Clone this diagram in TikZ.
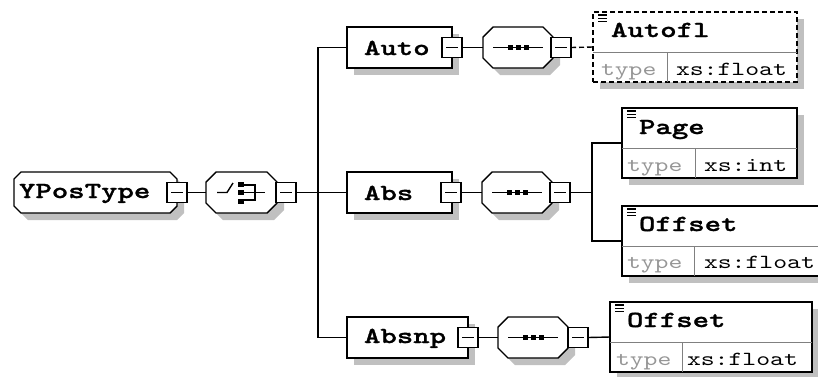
\documentclass[tikz,border=0pt]{standalone}
\usepackage{fontspec}
\usetikzlibrary{shadows}
\newfontfamily\elfont[FakeStretch=1.36,FakeBold=1.2]{lmmonolt10-bold.otf}
\newfontfamily\tyfont[FakeStretch=1.32]{lmmono10-regular.otf}
\definecolor{shadowc}{RGB}{192,192,192}
\definecolor{typegray}{RGB}{150,150,150}
\definecolor{divgray}{RGB}{128,128,128}
\newcommand\octshape[2]{%
 \fill[shadowc] ([xshift=#2+7,yshift=-7]#1.north west) -- ([xshift=-#2+7,yshift=-7]#1.north east) -- ([xshift=7,yshift=-#2-7]#1.north east) -- ([xshift=7,yshift=#2-7]#1.south east) -- ([xshift=-#2+7,yshift=-7]#1.south east) -- ([xshift=#2+7,yshift=-7]#1.south west) -- ([xshift=7,yshift=#2-7]#1.south west) -- ([xshift=7,yshift=-#2-7]#1.north west) -- cycle;
 \draw[fill=white] ([xshift=#2]#1.north west) -- ([xshift=-#2]#1.north east) -- ([yshift=-#2]#1.north east) -- ([yshift=#2]#1.south east) -- ([xshift=-#2]#1.south east) -- ([xshift=#2]#1.south west) -- ([yshift=#2]#1.south west) -- ([yshift=-#2]#1.north west) -- cycle;}
\newcommand\minusb[3]{%
 \node[box, anchor=north west, minimum width=20pt, minimum height=20pt] (#1) at (#2,#3) {};
 \draw ([xshift=-6]#1.center) -- ([xshift=6]#1.center);}
\newcommand\elparts[2]{%
 \draw[divline] ([yshift=-40]#1.north west) -- ([yshift=-40]#1.north east);
 \draw[divline] ([xshift=#2,yshift=-40]#1.north west) -- ([xshift=#2]#1.south west);
 \foreach \k in {3,6.3,9.6} \draw[line width=1.1pt] ([xshift=5,yshift=-\k]#1.north west) -- ++(9,0);}
\newcommand\seqsym[2]{% center x, center y
 \draw (#1-25,#2) -- (#1+25,#2);
 \foreach \d in {-8,0,8} \fill ({#1+\d-2.5},{#2-2.5}) rectangle ({#1+\d+2.5},{#2+2.5});}
\begin{document}
\begin{tikzpicture}[x=1pt,y=-1pt,line width=1.4pt,
  every node/.style={outer sep=0pt},
  hold/.style={rectangle, inner sep=0pt, draw=none},
  box/.style={rectangle, inner sep=0pt, draw=black, fill=white},
  shd/.style={drop shadow={shadow xshift=7pt, shadow yshift=-7pt, fill=shadowc, opacity=1}},
  divline/.style={draw=divgray, line width=1pt},
  optline/.style={dash pattern=on 5pt off 3pt},
  eltext/.style={inner sep=0pt, anchor=base west, font=\elfont\fontsize{23}{23}\selectfont},
  tytext/.style={inner sep=0pt, anchor=base west, font=\tyfont\fontsize{20}{20}\selectfont, text=typegray},
  tyval/.style={inner sep=0pt, anchor=base west, font=\tyfont\fontsize{20}{20}\selectfont}]
\clip (0,0) rectangle (818,376);
\fill[white] (0,0) rectangle (818,376);
% ---- YPosType
\node[hold, anchor=north west, minimum width=163pt, minimum height=41pt] (ypt) at (14,172) {};
\octshape{ypt}{7}
\node[eltext] (ypt-t) at (19,198) {YPosType};
\minusb{ypt-m}{167}{182.5}
% ---- choice
\node[hold, anchor=north west, minimum width=71pt, minimum height=41pt] (cho) at (206,172) {};
\octshape{cho}{10}
\draw (217,192.5) -- (227,192.5) -- (233,183);
\fill (238,181.5) rectangle (244,186.5);
\fill (238,190) rectangle (244,195);
\fill (238,198.5) rectangle (244,203.5);
\draw (244,185) -- (255,185) -- (255,200) -- (244,200);
\draw (244,192.5) -- (265,192.5);
\minusb{cho-m}{276}{182.5}
% ---- Auto
\node[box, shd, anchor=north west, minimum width=105pt, minimum height=41pt] (auto) at (347,27) {};
\node[eltext] (auto-t) at (364,55) {Auto};
\minusb{auto-m}{442}{37.5}
\node[hold, anchor=north west, minimum width=70pt, minimum height=41pt] (sq1) at (483,27) {};
\octshape{sq1}{10}
\seqsym{518}{47.5}
\minusb{sq1-m}{551}{37.5}
\node[box, shd, optline, anchor=north west, minimum width=204pt, minimum height=70pt] (autofl) at (593,12) {};
\elparts{autofl}{74}
\node[eltext] (autofl-t) at (611,37) {Autofl};
\node[tytext] (autofl-k) at (601,75) {type};
\node[tyval] (autofl-v) at (676,75) {xs:float};
% ---- Abs
\node[box, shd, anchor=north west, minimum width=105pt, minimum height=41pt] (abs) at (347,172) {};
\node[eltext] (abs-t) at (364,200) {Abs};
\minusb{abs-m}{441}{182.5}
\node[hold, anchor=north west, minimum width=70pt, minimum height=41pt] (sq2) at (482,172) {};
\octshape{sq2}{10}
\seqsym{517}{192.5}
\minusb{sq2-m}{550}{182.5}
\node[box, shd, anchor=north west, minimum width=175pt, minimum height=70pt] (page) at (622,108) {};
\elparts{page}{73}
\node[eltext] (page-t) at (639,134) {Page};
\node[tytext] (page-k) at (627,171) {type};
\node[tyval] (page-v) at (704,171) {xs:int};
\node[box, shd, anchor=north west, minimum width=202pt, minimum height=70pt] (off1) at (622,206) {};
\elparts{off1}{72}
\node[eltext] (off1-t) at (639,231) {Offset};
\node[tytext] (off1-k) at (627,268) {type};
\node[tyval] (off1-v) at (704,268) {xs:float};
% ---- Absnp
\node[box, shd, anchor=north west, minimum width=121pt, minimum height=41pt] (absnp) at (347,317) {};
\node[eltext] (absnp-t) at (364,343) {Absnp};
\minusb{absnp-m}{458}{327.5}
\node[hold, anchor=north west, minimum width=70pt, minimum height=41pt] (sq3) at (498,317) {};
\octshape{sq3}{10}
\seqsym{533}{337.5}
\minusb{sq3-m}{568}{327.5}
\node[box, shd, anchor=north west, minimum width=202pt, minimum height=70pt] (off2) at (610,302) {};
\elparts{off2}{72}
\node[eltext] (off2-t) at (627,327) {Offset};
\node[tytext] (off2-k) at (616,365) {type};
\node[tyval] (off2-v) at (687,365) {xs:float};
% ---- connectors
\coordinate (j1) at (318,192.5);
\coordinate (j2) at (592,192.5);
\draw (ypt-m.east) -- (cho.west);
\draw (cho-m.east) -- (abs.west);
\draw (auto.west) -- (auto.west -| j1) -- (absnp.west -| j1) -- (absnp.west);
\draw (auto-m.east) -- (sq1.west);
\draw[optline] (sq1-m.east) -- (autofl.west);
\draw (abs-m.east) -- (sq2.west);
\draw (sq2-m.east) -- (j2);
\draw (page.west) -- (page.west -| j2) -- (off1.west -| j2) -- (off1.west);
\draw (absnp-m.east) -- (sq3.west);
\draw (sq3-m.east) -- (off2.west);
\end{tikzpicture}
\end{document}
